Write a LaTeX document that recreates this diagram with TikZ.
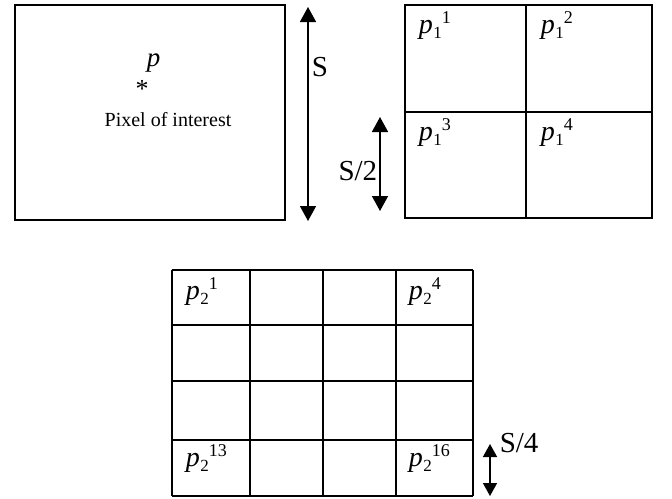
\documentclass[tikz,border=0pt]{standalone}
\usepackage{fontspec}
\setmainfont{Liberation Serif}
\usetikzlibrary{arrows.meta}
% label p_i^j, written as in the scanned figure
\newcommand{\plab}[2]{\textit{p}\kern.5pt\raisebox{-5pt}{\fontsize{17}{17}\selectfont #1}\raisebox{10pt}{\fontsize{18}{18}\selectfont #2}}
\begin{document}
\begin{tikzpicture}[x=1pt,y=-1pt,line width=1.6pt,
    every node/.style={font=\fontsize{28}{30}\selectfont,inner sep=0pt},
    big/.style={font=\fontsize{29}{31}\selectfont},
    dimarrow/.style={{Triangle[length=15pt,width=16pt]}-{Triangle[length=15pt,width=16pt]},line width=1.5pt}]
    \useasboundingbox (0,0) rectangle (672,498);
    % window around the pixel
    \draw (15,5) rectangle (285,220);
    \node[anchor=base west,font=\fontsize{27}{29}\selectfont] (p) at (146,66) {\textit{p}};
    \node[font=\fontsize{26}{28}\selectfont] (star) at (142,89) {*};
    \node[font=\fontsize{20}{22}\selectfont] (poi) at (168,120) {Pixel of interest};
    % side S
    \coordinate (stop) at (308,7);
    \coordinate (sbot) at (308,221);
    \draw[dimarrow] (stop) -- (sbot);
    \node[anchor=west,big] (S) at (311,67) {S};
    % level 1: 2x2
    \draw (405,5) rectangle (652,218);
    \draw (526,5) -- (526,218);
    \draw (405,112) -- (652,112);
    \node[anchor=base west] (p11) at (418,33) {\plab{1}{1}};
    \node[anchor=base west] (p12) at (540,33) {\plab{1}{2}};
    \node[anchor=base west] (p13) at (418,140) {\plab{1}{3}};
    \node[anchor=base west] (p14) at (540,140) {\plab{1}{4}};
    \coordinate (htop) at (380,117);
    \coordinate (hbot) at (380,211);
    \draw[dimarrow] (htop) -- (hbot);
    \node[anchor=east,big] (S2) at (378,171) {S/2};
    % level 2: 4x4
    \foreach \x in {172,250,323,396,473}
        \draw (\x,270) -- (\x,496);
    \foreach \y in {270,325,381,440,496}
        \draw (172,\y) -- (473,\y);
    \node[anchor=base west] (p21) at (185,299) {\plab{2}{1}};
    \node[anchor=base west] (p24) at (408,299) {\plab{2}{4}};
    \node[anchor=base west] (p213) at (185,466) {\plab{2}{13}};
    \node[anchor=base west] (p216) at (408,466) {\plab{2}{16}};
    \coordinate (qtop) at (490,444);
    \coordinate (qbot) at (490,496);
    \draw[{Triangle[length=13pt,width=14pt]}-{Triangle[length=13pt,width=14pt]},line width=1.5pt] (qtop) -- (qbot);
    \node[anchor=west,big] (S4) at (499,443) {S/4};
\end{tikzpicture}
\end{document}
